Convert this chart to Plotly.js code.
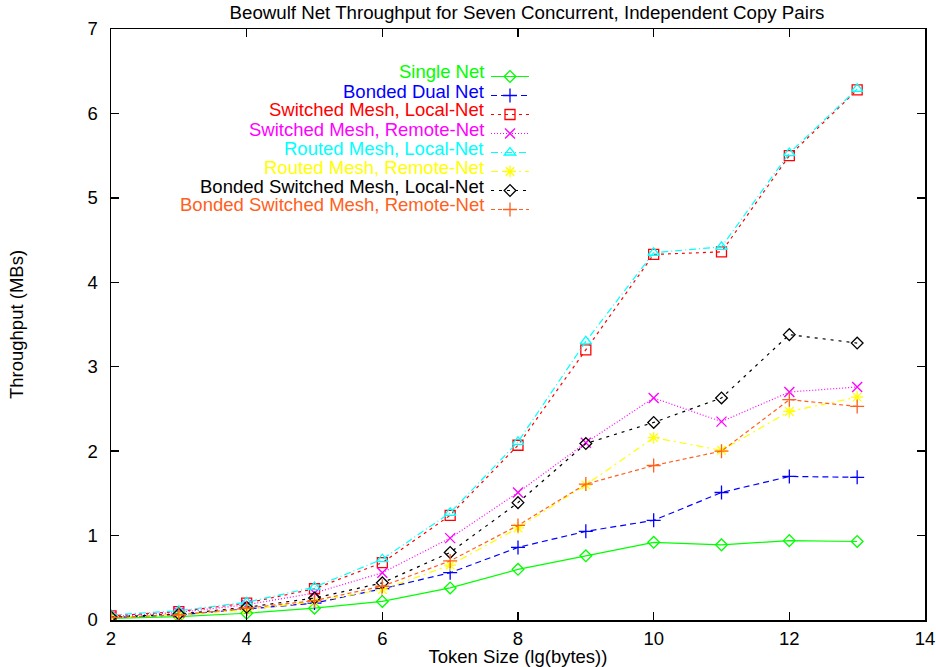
<!DOCTYPE html>
<html>
<head>
<meta charset="utf-8">
<script src="https://cdn.plot.ly/plotly-3.0.1.min.js"></script>
<style>html,body{margin:0;padding:0;background:#fff;}#chart{width:936px;height:667px;}</style>
</head>
<body>
<div id="chart"></div>
<script>
// Token sizes (lg(bytes))
const tokenSizes = [2, 3, 4, 5, 6, 7, 8, 9, 10, 11, 12, 13];

// Series names (legend labels)
const seriesNames = [
  "Single Net",
  "Bonded Dual Net",
  "Switched Mesh, Local-Net",
  "Switched Mesh, Remote-Net",
  "Routed Mesh, Local-Net",
  "Routed Mesh, Remote-Net",
  "Bonded Switched Mesh, Local-Net",
  "Bonded Switched Mesh, Remote-Net"
];

// Throughput values (MBs)
const singleNet            = [0.02, 0.04, 0.08, 0.14, 0.22, 0.38, 0.60, 0.76, 0.92, 0.89, 0.94, 0.93];
const bondedDualNet        = [0.03, 0.06, 0.13, 0.20, 0.37, 0.56, 0.86, 1.05, 1.18, 1.51, 1.70, 1.69];
const switchedLocal        = [0.05, 0.10, 0.20, 0.37, 0.68, 1.24, 2.07, 3.20, 4.33, 4.36, 5.50, 6.28];
const switchedRemote       = [0.04, 0.09, 0.18, 0.32, 0.56, 0.97, 1.51, 2.10, 2.63, 2.35, 2.70, 2.76];
const routedLocal          = [0.06, 0.11, 0.21, 0.39, 0.72, 1.27, 2.11, 3.30, 4.35, 4.42, 5.53, 6.29];
const routedRemote         = [0.03, 0.06, 0.12, 0.22, 0.36, 0.65, 1.09, 1.60, 2.16, 2.01, 2.47, 2.64];
const bondedSwitchedLocal  = [0.035, 0.07, 0.15, 0.26, 0.44, 0.80, 1.39, 2.09, 2.34, 2.63, 3.38, 3.28];
const bondedSwitchedRemote = [0.03, 0.06, 0.14, 0.23, 0.40, 0.70, 1.12, 1.61, 1.83, 2.00, 2.61, 2.53];

const seriesValues = [singleNet, bondedDualNet, switchedLocal, switchedRemote,
                      routedLocal, routedRemote, bondedSwitchedLocal, bondedSwitchedRemote];

// Styles
const colors  = ["#00ff00", "#0000ff", "#ff0000", "#ff00ff", "#00ffff", "#ffff00", "#000000", "#ff6020"];
const dashes  = ["solid", "6px,4px", "3px,4px", "1px,2px", "7px,3px,1px,3px", "7px,4px,2px,4px", "3px,5px", "4px,3px"];
const symbols = ["diamond-open", "cross-thin-open", "square-open", "x-thin-open",
                 "triangle-up-open", "asterisk-open", "diamond-open", "cross-thin-open"];
const sizes   = [9, 10, 10, 10, 10, 10, 9, 10];

const traces = seriesValues.map((vals, i) => ({
  type: "scatter",
  mode: "lines+markers",
  x: tokenSizes,
  y: vals,
  name: "",
  line: {color: colors[i], width: 1.2, dash: dashes[i]},
  marker: {symbol: symbols[i], size: sizes[i], color: colors[i], line: {color: colors[i], width: 1.3}},
  showlegend: true
}));

// Legend labels as right-aligned annotations, coloured per series
const rowTopPx = 72, rowStepPx = 19, plotTop = 29, plotH = 591;
const FONT = "Liberation Sans, Arial, sans-serif";
const annotations = seriesNames.map((nm, i) => ({
  xref: "paper", yref: "paper",
  x: (485 - 111) / 814,
  y: 1 - (rowTopPx + i * rowStepPx - plotTop) / plotH,
  xanchor: "right", yanchor: "middle", borderpad: 0,
  text: nm, showarrow: false,
  font: {family: FONT, size: 18.5, color: colors[i]}
}));

const layout = {
  width: 936, height: 667,
  margin: {l: 111, r: 11, t: 29, b: 47, pad: 0},
  paper_bgcolor: "#ffffff", plot_bgcolor: "#ffffff",
  font: {family: FONT, size: 18.5, color: "#000"},
  title: {
    text: "Beowulf Net Throughput for Seven Concurrent, Independent Copy Pairs",
    font: {size: 18.7, color: "#000"},
    xref: "container", yref: "container", x: 527/936, y: 1 - 12/667,
    xanchor: "center", yanchor: "middle"
  },
  xaxis: {
    range: [2, 14], dtick: 2, tick0: 2,
    showgrid: false, zeroline: false,
    showline: true, linecolor: "#000", linewidth: 1.5, mirror: "allticks",
    ticks: "inside", ticklen: 8, tickwidth: 1.5, tickcolor: "#000",
    tickfont: {size: 18.5}, ticklabelstandoff: 1,
    title: {text: "Token Size (lg(bytes))", font: {size: 18.5}, standoff: 0}
  },
  yaxis: {
    range: [0, 7], dtick: 1, tick0: 0,
    showgrid: false, zeroline: false,
    showline: true, linecolor: "#000", linewidth: 1.5, mirror: "allticks",
    ticks: "inside", ticklen: 8, tickwidth: 1.5, tickcolor: "#000",
    tickfont: {size: 18.5}, ticklabelstandoff: 8,
    title: {text: "Throughput (MBs)", font: {size: 18.5}, standoff: 59}
  },
  legend: {
    x: (486 - 111) / 814, xanchor: "left",
    y: 1 - (62 - 29) / 591, yanchor: "top",
    bgcolor: "rgba(0,0,0,0)", borderwidth: 0,
    font: {size: 10},
    itemwidth: 38, tracegroupgap: 0
  },
  annotations: annotations,
  showlegend: true
};

Plotly.newPlot("chart", traces, layout, {displayModeBar: false, staticPlot: true});
</script>
</body>
</html>
